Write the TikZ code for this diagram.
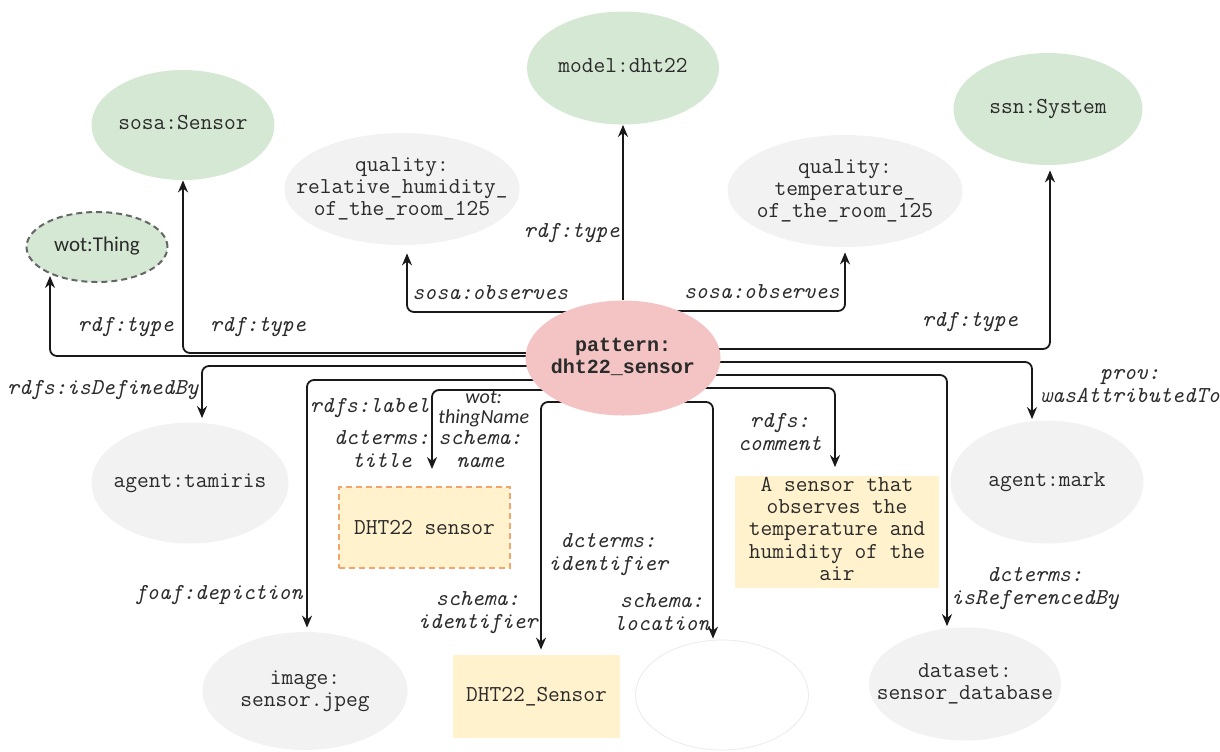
\documentclass[tikz,border=0pt]{standalone}
\usepackage{fontspec}
\newfontfamily\boldmono{Liberation Mono}
\newfontfamily\calibri{Carlito}
\usepackage{tikz}
\usetikzlibrary{arrows,arrows.meta,shapes.geometric,calc,backgrounds}

\definecolor{clsgreen}{HTML}{D5E8D4}
\definecolor{indgrey}{HTML}{F2F2F2}
\definecolor{patpink}{HTML}{F4C3C3}
\definecolor{lityellow}{HTML}{FFF2CC}
\definecolor{dashorange}{HTML}{F4A56E}
\definecolor{txtgrey}{HTML}{2B2B2B}

\newcommand{\stk}[1]{\makebox[0pt]{\begin{tabular}{@{}c@{}}#1\end{tabular}}}

\begin{document}
\begin{tikzpicture}[x=0.5pt,y=-0.5pt,>={Stealth[length=6pt,width=5pt]},
		every node/.style={text=txtgrey,inner sep=0pt},
		class node/.style={ellipse,fill=clsgreen,font=\ttfamily\fontsize{11.4}{11.2}\selectfont},
		ind node/.style={ellipse,fill=indgrey,font=\ttfamily\fontsize{11.4}{11.2}\selectfont},
		pat node/.style={ellipse,fill=patpink,font=\boldmono\bfseries\fontsize{10}{11.2}\selectfont},
		lit node/.style={rectangle,fill=lityellow,font=\ttfamily\fontsize{11.4}{11.2}\selectfont},
		prop/.style={font=\ttfamily\itshape\fontsize{11.4}{11.5}\selectfont,align=center},
		link/.style={->,line width=0.9pt,rounded corners=3.5pt,draw=black!90}]
		\useasboundingbox (0,0) rectangle (1220,751);

		% classes
		\node[class node,minimum width=96pt,minimum height=56.5pt] (model) at (623,68) {\stk{model:dht22}};
		\node[class node,minimum width=91.5pt,minimum height=55pt] (sosa) at (183,125) {\stk{sosa:Sensor}};
		\node[class node,minimum width=94.5pt,minimum height=56pt] (ssn) at (1048,109) {\stk{ssn:System}};
		\node[class node,draw=black!60,dash pattern=on 3pt off 2pt,line width=1pt,
			minimum width=70.5pt,minimum height=35pt,font=\calibri\fontsize{10.5}{11}\selectfont] (wot) at (97,247) {\stk{wot:Thing}};

		% individuals
		\node[ind node,minimum width=117.5pt,minimum height=56pt] (hum) at (402,189) {\stk{quality:\\relative\_humidity\_\\of\_the\_room\_125}};
		\node[ind node,minimum width=117.5pt,minimum height=56pt] (temp) at (845,191) {\stk{quality:\\temperature\_\\of\_the\_room\_125}};
		\node[pat node,minimum width=97.5pt,minimum height=57.5pt] (pat) at (623,358) {\stk{pattern:\\dht22\_sensor}};
		\node[ind node,minimum width=98.5pt,minimum height=60.5pt] (tamiris) at (190,483) {\stk{agent:tamiris}};
		\node[ind node,minimum width=96.5pt,minimum height=61.5pt] (mark) at (1047,482) {\stk{agent:mark}};
		\node[ind node,minimum width=102.5pt,minimum height=59pt] (image) at (305,691) {\stk{image:\\sensor.jpeg}};
		\node[ellipse,fill=white,draw=black!8,thin,minimum width=86.5pt,minimum height=55pt] (loc) at (722,695) {};
		\node[ind node,minimum width=96pt,minimum height=56.5pt] (dataset) at (965,684) {\stk{dataset:\\sensor\_database}};

		% literals
		\node[lit node,draw=dashorange,dash pattern=on 3pt off 2pt,line width=1pt,
			minimum width=85.5pt,minimum height=40.5pt] (title) at (424.5,527.5) {DHT22 sensor};
		\node[lit node,minimum width=102pt,minimum height=53.5pt] (comment) at (837,531.5) {\begin{tabular}{@{}c@{}}A sensor that\\observes the\\temperature and\\humidity of the\\air\end{tabular}};
		\node[lit node,minimum width=83.5pt,minimum height=41.5pt] (ident) at (536.5,696.5) {DHT22\_Sensor};

		% properties
		\node[prop,anchor=east] (l1) at (620,233) {rdf:type};
		\node[prop,anchor=west] (l2) at (412,293) {sosa:observes};
		\node[prop,anchor=east] (l3) at (840,292) {sosa:observes};
		\node[prop] (l4) at (970,322) {rdf:type};
		\node[prop] (l5) at (258,327) {rdf:type};
		\node[prop,anchor=east] (l6) at (174,327) {rdf:type};
		\node[prop,anchor=east] (l7) at (199,390) {rdfs:isDefinedBy};
		\node[prop,anchor=east] (l8) at (430,408) {rdfs:label};
		\node[prop,anchor=east] (l9) at (430,449) {dcterms:\\title};
		\node[prop,anchor=west,font=\calibri\itshape\fontsize{10}{10}\selectfont] (l10) at (438,409) {wot:\\thingName};
		\node[prop,anchor=west] (l11) at (438,449) {schema:\\name};
		\node[prop,anchor=east] (l12) at (303,595) {foaf:depiction};
		\node[prop,anchor=west] (l13) at (548,555) {dcterms:\\identifier};
		\node[prop,anchor=east] (l14) at (538,613) {schema:\\identifier};
		\node[prop,anchor=east] (l15) at (710,612) {schema:\\location};
		\node[prop,anchor=east] (l16) at (822,432) {rdfs:\\comment};
		\node[prop] (l17) at (1035,589) {dcterms:\\isReferencedBy};
		\node[prop] (l18) at (1130,386) {prov:\\wasAttributedTo};

		\begin{scope}[on background layer]
		\draw[link] (pat) -- (model);
		\draw[link] ($(pat)+(0,-46)$) -| ($(hum.south)+(5,8)$);
		\draw[link] ($(pat)+(0,-47)$) -| ($(temp.south)+(0,5)$);
		\draw[link] ($(pat)+(0,-9)$) -| ($(ssn.south)+(2,5)$);
		\draw[link] ($(pat)+(0,-5)$) -| (sosa);
		\draw[link] ($(pat)+(0,-2)$) -| ($(wot.south)+(-47,-7)$);
		\draw[link] ($(pat)+(0,8)$) -| ($(tamiris.north)+(12,-4)$);
		\draw[link] ($(pat)+(0,22)$) -| ($(image.north)+(2,-4)$);
		\draw[link] ($(pat)+(0,32)$) -| ($(title.north)+(7.5,-17)$);
		\draw[link] ($(pat)+(0,44)$) -| ($(ident.north)+(4.5,-5)$);
		\draw[link] ($(pat)+(0,44)$) -| ($(loc.north)+(-9,-1)$);
		\draw[link] ($(pat)+(0,30)$) -| ($(comment.north)+(-2,-8)$);
		\draw[link] ($(pat)+(0,17)$) -| ($(dataset.north)+(-18,-1)$);
		\draw[link] ($(pat)+(0,4)$) -| ($(mark.north)+(-15,-1)$);
		\end{scope}
\end{tikzpicture}
\end{document}
